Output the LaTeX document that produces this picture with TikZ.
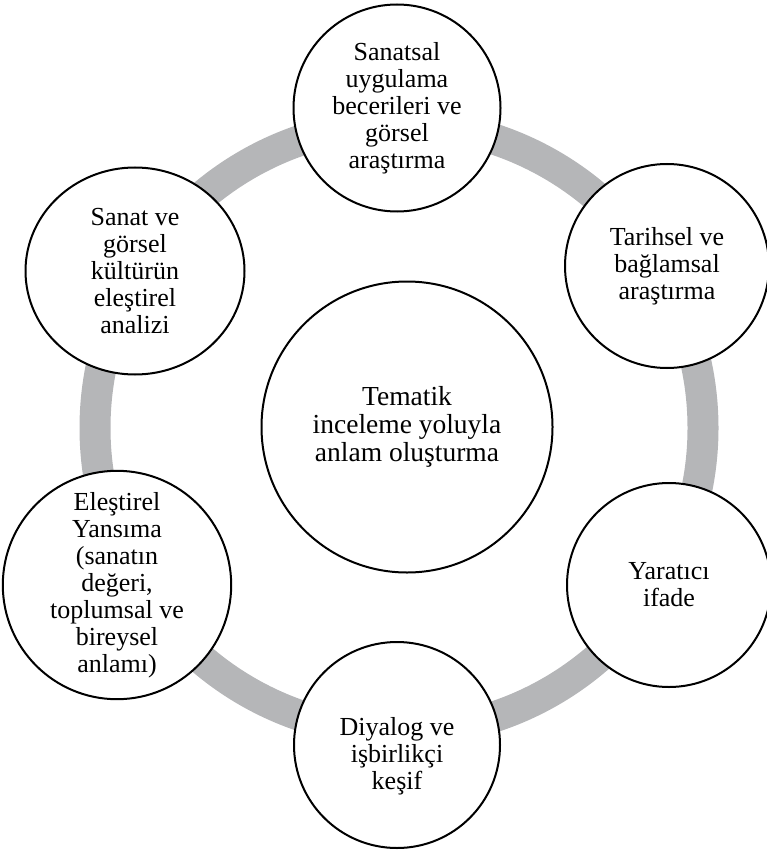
\documentclass[tikz,border=0pt]{standalone}
\usepackage{fontspec}
\setmainfont{Liberation Serif}
\usetikzlibrary{shapes.geometric}
\definecolor{ringgray}{RGB}{181,182,184}
\tikzset{
  topic/.style={circle, draw=black, line width=2pt, fill=white, inner sep=0pt,
    align=center, font=\fontsize{26}{27}\selectfont},
  hub/.style={topic, font=\fontsize{27.5}{28}\selectfont},
  caption/.style={align=center, inner sep=0pt, font=\fontsize{26}{27}\selectfont}
}
\begin{document}
\begin{tikzpicture}[x=1pt, y=-1pt]
  \useasboundingbox (0,0) rectangle (766,850);
  % grey ring linking the six topics
  \coordinate (ringc) at (399,428);
  \draw[ringgray, line width=31pt] (ringc) circle[radius=304];
  % central theme
  \node[hub, minimum size=291pt] (hub) at (407,427)
    {Tematik\\inceleme yoluyla\\anlam oluşturma};
  % surrounding topics
  \node[topic, minimum size=207pt] (art) at (397,108)
    {Sanatsal\\uygulama\\becerileri ve\\görsel\\araştırma};
  \node[topic, minimum size=204pt] (hist) at (667,266)
    {Tarihsel ve\\bağlamsal\\araştırma};
  \node[topic, minimum size=204pt] (create) at (669,585)
    {Yaratıcı\\ifade};
  \node[topic, minimum size=206pt] (dia) at (397,745) {};
  \node[caption] (diatext) at ([yshift=-11pt]dia.center)
    {Diyalog ve\\işbirlikçi\\keşif};
  \node[topic, minimum size=225pt] (refl) at (117,585)
    {Eleştirel\\Yansıma\\(sanatın\\değeri,\\toplumsal ve\\bireysel\\anlamı)};
  \node[topic, ellipse, minimum width=219pt, minimum height=207pt] (crit) at (135,271)
    {Sanat ve\\görsel\\kültürün\\eleştirel\\analizi};
\end{tikzpicture}
\end{document}
